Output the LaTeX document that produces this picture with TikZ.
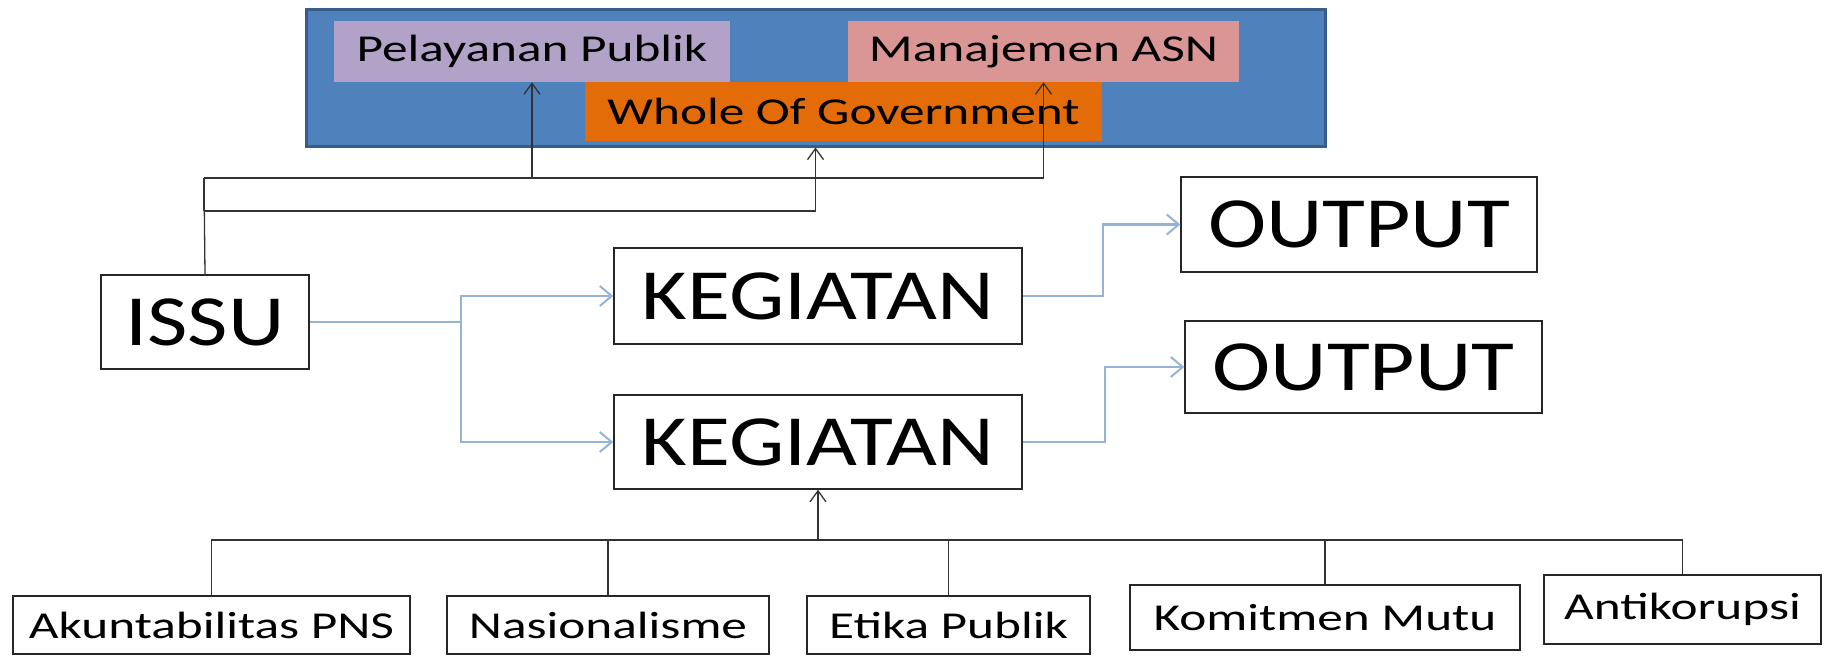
\documentclass[tikz,border=0pt]{standalone}
\usepackage{fontspec}
\setmainfont{Carlito}
\usetikzlibrary{arrows.meta}
\definecolor{bgblue}{HTML}{4F81BD}
\definecolor{bgborder}{HTML}{385D8A}
\definecolor{lav}{HTML}{B3A2C7}
\definecolor{pinkb}{HTML}{D99694}
\definecolor{orng}{HTML}{E36C09}
\definecolor{lblue}{HTML}{95B3D7}
\newcommand{\bigt}[1]{\scalebox{1.22}[1]{#1}}
\newcommand{\smt}[1]{\scalebox{1.35}[1]{#1}}
\tikzset{
 bigbox/.style={draw=black!85, line width=1.4pt, fill=white, inner sep=0pt, font=\fontsize{72}{80}\selectfont},
 smallbox/.style={draw=black!85, line width=1.4pt, fill=white, inner sep=0pt, font=\fontsize{38}{44}\selectfont},
 topbox/.style={inner sep=0pt, font=\fontsize{38}{44}\selectfont},
 blk/.style={draw=black!80, line width=1.3pt},
 blkarr/.style={blk, -{Straight Barb[length=11pt,width=16pt,line width=1.3pt]}},
 bl/.style={draw=lblue, line width=2.2pt},
 blarr/.style={bl, -{Straight Barb[length=12pt,width=20pt,line width=2pt]}},
}
\begin{document}
\begin{tikzpicture}[x=1pt,y=1pt]
\useasboundingbox (0,0) rectangle (1826,-656);
% top panel
\node[fill=bgblue, draw=bgborder, line width=3pt, minimum width=1019pt, minimum height=137pt, inner sep=0pt] (bg) at (815.5,-77.5) {};
\node[topbox, fill=lav, minimum width=396pt, minimum height=61pt] (pp) at (532,-51.5) {\smt{Pelayanan Publik}};
\node[topbox, fill=pinkb, minimum width=391pt, minimum height=61pt] (ma) at (1043.5,-51.5) {\smt{Manajemen ASN}};
\node[topbox, fill=orng, minimum width=517pt, minimum height=59pt] (wg) at (843.5,-111.5) {\smt{Whole Of Government}};
% main nodes
\node[bigbox, minimum width=208pt, minimum height=94pt] (issu) at (205,-322) {\bigt{ISSU}};
\node[bigbox, minimum width=408pt, minimum height=96pt] (k1) at (818,-296) {\bigt{KEGIATAN}};
\node[bigbox, minimum width=408pt, minimum height=94pt] (k2) at (818,-442) {\bigt{KEGIATAN}};
\node[bigbox, minimum width=356pt, minimum height=95pt] (o1) at (1359,-224.5) {\bigt{OUTPUT}};
\node[bigbox, minimum width=357pt, minimum height=92pt] (o2) at (1363.5,-367) {\bigt{OUTPUT}};
% bottom nodes
\node[smallbox, minimum width=397pt, minimum height=58pt] (ak) at (211.5,-625) {\smt{Akuntabilitas PNS}};
\node[smallbox, minimum width=322pt, minimum height=58pt] (na) at (608,-625) {\smt{Nasionalisme}};
\node[smallbox, minimum width=283pt, minimum height=58pt] (et) at (948.5,-625) {\smt{Etika Publik}};
\node[smallbox, minimum width=390pt, minimum height=65pt] (km) at (1325,-617.5) {\smt{Komitmen Mutu}};
\node[smallbox, minimum width=277pt, minimum height=69pt] (an) at (1682.5,-609.5) {\smt{Antikorupsi}};
% black connectors top
\coordinate (j1) at (204,-178);
\coordinate (j2) at (204,-211);
\draw[blk] (issu.north) -- (j1);
\draw[blkarr] (j1) -| (pp.south);
\draw[blkarr] (j1) -| (ma.south);
\draw[blk] (j1) -- (j2);
\draw[blkarr] (j2) -| (bg.south);
% blue connectors
\coordinate (s1) at (461,-322);
\draw[bl] (issu.east) -- (s1);
\draw[blarr] (s1) |- (k1.west);
\draw[blarr] (s1) |- (k2.west);
\draw[blarr] (k1.east) -- ++(80,0) |- (o1.west);
\draw[blarr] (k2.east) -- ++(82,0) |- (o2.west);
% bottom bus
\coordinate (bus) at (818,-540);
\draw[blkarr] (bus) -- (k2.south);
\draw[blk] (bus) -| (ak.north);
\draw[blk] (bus) -| (na.north);
\draw[blk] (bus) -| (et.north);
\draw[blk] (bus) -| (km.north);
\draw[blk] (bus) -| (an.north);
\end{tikzpicture}
\end{document}
